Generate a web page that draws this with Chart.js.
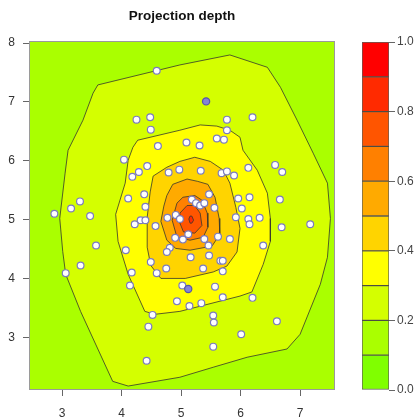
<!DOCTYPE html>
<html>
<head>
<meta charset="utf-8">
<title>Projection depth</title>
<script src="https://cdn.jsdelivr.net/npm/chart.js@4.4.1/dist/chart.umd.min.js"></script>
<style>
  html, body { margin: 0; padding: 0; background: #fff; }
  #wrap { position: relative; width: 418px; height: 419px; }
  #main { position: absolute; left: 0; top: 0; width: 345px; height: 419px; }
  #bar  { position: absolute; left: 340px; top: 0; width: 78px; height: 419px; }
</style>
</head>
<body>
<div id="wrap">
  <canvas id="main" width="345" height="419"></canvas>
  <canvas id="bar" width="78" height="419"></canvas>
</div>
<script>
/* filled contour of projection depth + the sample points on top,
   colour key on the right (bands of 0.1) */

// depth bands 0.0–0.1 ... 0.9–1.0
const BREAKS = [0, 0.1, 0.2, 0.3, 0.4, 0.5, 0.6, 0.7, 0.8, 0.9, 1.0];
const LEVEL_COLORS = ["#80FF00", "#AAFF00", "#D4FF00", "#FFFF00", "#FFD400",
                      "#FFAA00", "#FF8000", "#FF5500", "#FF2A00", "#FF0000"];
const KEY_TICKS = [0, 0.2, 0.4, 0.6, 0.8, 1.0];

// axes
const X_MIN = 2.46, X_MAX = 7.57, Y_MIN = 2.12, Y_MAX = 8.02;
const X_TICKS = [3, 4, 5, 6, 7];
const Y_TICKS = [3, 4, 5, 6, 7, 8];

// contour polygons (x, y), one per depth level
const CONTOUR_02 = [[3.60,7.29],[4.98,7.63],[5.82,7.80],[6.45,7.59],[6.67,7.25],[6.95,6.69],
  [7.22,6.13],[7.46,5.62],[7.51,5.02],[7.46,4.36],[7.34,3.90],[7.00,3.05],[6.78,2.80],
  [6.11,2.66],[5.54,2.49],[4.98,2.32],[4.11,2.17],[3.85,2.25],[3.31,3.44],[3.06,4.07],
  [3.01,4.46],[2.96,5.02],[3.05,5.79],[3.10,6.18],[3.35,6.69],[3.52,7.15]];
const CONTOUR_03 = [[4.11,6.01],[4.19,6.23],[4.27,6.35],[4.98,6.52],[5.32,6.61],[5.60,6.59],
  [5.82,6.52],[5.99,6.40],[6.04,6.18],[6.28,5.84],[6.45,5.45],[6.50,5.02],[6.50,4.63],
  [6.38,4.24],[6.19,3.77],[5.99,3.70],[4.98,3.44],[4.56,3.39],[4.39,3.44],[4.11,4.07],
  [3.94,4.63],[3.90,5.09],[4.06,5.62]];
const CONTOUR_04 = [[4.53,5.74],[4.76,5.89],[4.98,5.99],[5.23,6.06],[5.49,5.99],[5.71,5.84],
  [5.82,5.62],[5.92,5.21],[5.99,4.85],[5.94,4.45],[5.77,4.21],[5.54,4.11],[5.07,4.00],
  [4.66,4.00],[4.49,4.22],[4.43,4.53],[4.43,5.04],[4.48,5.47]];
const CONTOUR_05 = [[4.76,5.41],[4.86,5.60],[5.10,5.69],[5.28,5.65],[5.45,5.60],[5.57,5.38],
  [5.64,5.02],[5.65,4.75],[5.52,4.55],[5.15,4.48],[4.91,4.51],[4.76,4.65],[4.66,4.97],
  [4.71,5.23]];
const CONTOUR_06 = [[4.93,5.28],[5.03,5.38],[5.23,5.41],[5.35,5.33],[5.44,5.11],[5.45,4.87],
  [5.37,4.70],[5.15,4.65],[4.93,4.70],[4.85,4.99]];
const CONTOUR_07 = [[4.98,5.11],[5.10,5.24],[5.23,5.24],[5.32,5.11],[5.35,4.90],[5.23,4.77],
  [5.04,4.79],[4.98,4.94]];
const CONTOUR_08 = [[5.15,5.06],[5.18,5.06],[5.21,4.99],[5.18,4.94],[5.15,4.94],[5.13,5.01]];
const CONTOUR_LEVELS = [0.2, 0.3, 0.4, 0.5, 0.6, 0.7, 0.8];
const CONTOURS = [CONTOUR_02, CONTOUR_03, CONTOUR_04, CONTOUR_05, CONTOUR_06, CONTOUR_07, CONTOUR_08];

// sample points
const PTS_X = [4.59,4.25,4.48,4.49,5.77,5.77,6.20,4.61,5.09,5.31,5.60,5.72,4.04,4.43,4.29,
  4.18,4.79,4.97,5.33,5.68,5.77,5.89,6.13,6.58,6.70,4.38,4.11,4.40,3.30,3.15,2.87,3.47,
  5.47,5.18,5.25,5.32,5.39,5.56,5.96,6.15,6.66,6.02,4.91,4.98,4.77,4.57,4.32,4.40,4.22,
  5.92,6.13,6.15,6.32,6.69,7.17,6.38,3.57,3.31,3.06,4.07,4.90,5.03,5.12,5.39,5.46,5.62,
  5.82,4.81,4.76,5.16,5.47,5.66,5.70,4.49,4.75,5.37,5.70,4.17,4.59,4.14,5.02,5.57,4.93,
  5.14,5.34,5.70,6.20,4.52,5.54,5.55,4.45,6.61,6.01,5.54,4.42];
const PTS_Y = [7.53,6.70,6.74,6.53,6.70,6.52,6.74,6.25,6.31,6.26,6.38,6.36,6.02,5.91,5.81,
  5.73,5.80,5.85,5.83,5.79,5.82,5.75,5.88,5.93,5.81,5.43,5.36,5.22,5.31,5.19,5.10,5.06,
  5.43,5.34,5.28,5.24,5.28,5.20,5.36,5.38,5.34,5.19,5.08,5.01,5.03,4.89,4.99,4.99,4.92,
  5.04,5.01,4.92,5.03,4.87,4.92,4.56,4.56,4.22,4.09,4.48,4.69,4.66,4.75,4.67,4.56,4.71,
  4.67,4.52,4.45,4.36,4.39,4.30,4.30,4.28,4.17,4.17,4.12,4.10,4.09,3.88,3.88,3.86,3.61,
  3.53,3.58,3.68,3.67,3.38,3.37,3.25,3.18,3.27,3.05,2.84,2.60];
// repeated observations (drawn darker)
const DUP_X = [5.42, 5.12];
const DUP_Y = [7.01, 3.82];

const LINE = "rgba(55,55,45,0.8)";
const FONT = { family: "'Liberation Sans', Arial, sans-serif", size: 12 };

const pair = (xs, ys) => xs.map((x, i) => ({ x, y: ys[i] }));
const ring = pts => pts.concat([pts[0]]).map(([x, y]) => ({ x, y }));

// ------- main panel ------------------------------------------------------
const datasets = [
  { data: pair(PTS_X, PTS_Y), showLine: false, pointRadius: 3.4,
    pointBackgroundColor: "#fff", pointBorderColor: "#7b7bbf", pointBorderWidth: 1.2, order: 1 },
  { data: pair(DUP_X, DUP_Y), showLine: false, pointRadius: 3.6,
    pointBackgroundColor: "#8585d6", pointBorderColor: "#5555a8", pointBorderWidth: 1.2, order: 0 },
];
CONTOURS.forEach((pts, i) => datasets.push({
  data: ring(pts), showLine: true, fill: "shape", tension: 0,
  backgroundColor: LEVEL_COLORS[Math.round(CONTOUR_LEVELS[i] * 10)],
  borderColor: LINE, borderWidth: 1, pointRadius: 0, order: 20 - i,
}));

// lowest band fills the rest of the panel, frame drawn on top
const panel = {
  id: "panel",
  beforeDatasetsDraw(c) {
    const a = c.chartArea, ctx = c.ctx;
    ctx.save();
    ctx.fillStyle = LEVEL_COLORS[1];
    ctx.fillRect(a.left, a.top, a.right - a.left, a.bottom - a.top);
    ctx.restore();
  },
  afterDraw(c) {
    const a = c.chartArea, ctx = c.ctx;
    ctx.save();
    ctx.strokeStyle = "#9a9a9a";
    ctx.lineWidth = 1;
    ctx.strokeRect(a.left - 0.5, a.top - 0.5, a.right - a.left + 1, a.bottom - a.top + 1);
    ctx.restore();
  },
};

new Chart(document.getElementById("main"), {
  type: "scatter",
  data: { datasets },
  plugins: [panel],
  options: {
    responsive: false, animation: false,
    layout: { padding: { left: 0, right: 11, top: 0, bottom: 0 } },
    plugins: {
      legend: { display: false }, tooltip: { enabled: false },
      title: { display: true, text: "Projection depth", fullSize: false, color: "#111",
        font: { family: FONT.family, size: 13.5, weight: "bold" },
        padding: { top: 8.5, bottom: 17.3 } },
    },
    scales: {
      x: {
        type: "linear", min: X_MIN, max: X_MAX,
        afterBuildTicks: s => { s.ticks = X_TICKS.map(v => ({ value: v })); },
        afterFit: s => { s.height = 30; },
        grid: { drawOnChartArea: false, tickLength: 7, color: "#666" },
        border: { display: false },
        ticks: { color: "#333", font: FONT, padding: 10, maxRotation: 0 },
      },
      y: {
        type: "linear", min: Y_MIN, max: Y_MAX,
        afterBuildTicks: s => { s.ticks = Y_TICKS.map(v => ({ value: v })); },
        afterFit: s => { s.width = 30; },
        grid: { drawOnChartArea: false, tickLength: 7, color: "#666" },
        border: { display: false },
        ticks: { color: "#333", font: FONT, padding: 8 },
      },
    },
  },
});

// ------- colour key ------------------------------------------------------
new Chart(document.getElementById("bar"), {
  type: "bar",
  data: {
    labels: [""],
    datasets: LEVEL_COLORS.map((c, i) => ({
      data: [BREAKS[i + 1] - BREAKS[i]], backgroundColor: c,
      borderColor: LINE, borderWidth: 1, borderSkipped: false,
      barPercentage: 1, categoryPercentage: 1,
    })),
  },
  options: {
    responsive: false, animation: false,
    layout: { padding: { left: 22, right: 0, top: 42, bottom: 29 } },
    plugins: { legend: { display: false }, tooltip: { enabled: false } },
    scales: {
      x: { display: false, stacked: true },
      y: {
        stacked: true, position: "right", min: 0, max: 1,
        afterBuildTicks: s => { s.ticks = KEY_TICKS.map(v => ({ value: v })); },
        afterFit: s => { s.width = 29; },
        grid: { drawOnChartArea: false, tickLength: 6, color: "#666" },
        border: { display: false },
        ticks: { color: "#444", font: FONT, padding: 2, callback: v => v.toFixed(1) },
      },
    },
  },
});
</script>
</body>
</html>
